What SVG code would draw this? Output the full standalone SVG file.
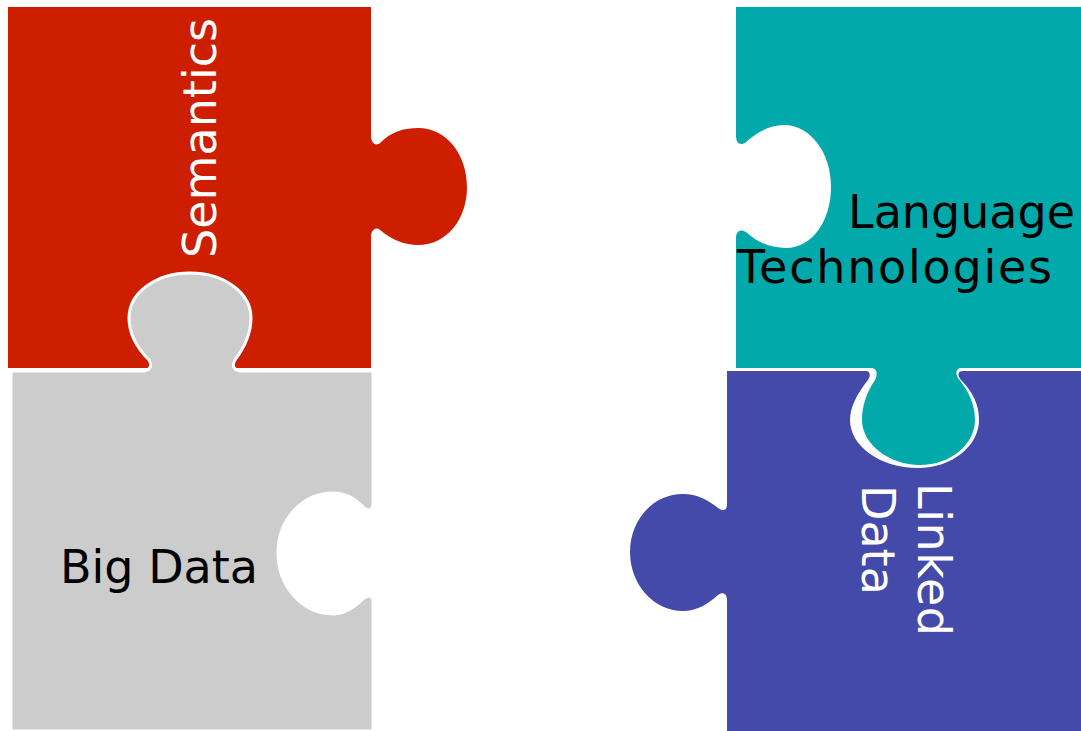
<svg xmlns="http://www.w3.org/2000/svg" width="1081" height="731" viewBox="0 0 1081 731">
<style>
.lbl{font-family:"DejaVu Sans","Liberation Sans",sans-serif;font-size:46px}
.w{fill:#ffffff}
.k{fill:#000000}
</style>
<rect width="1081" height="731" fill="#ffffff"/>
<g id="semantics">
<path fill="#CD1F00" d="M8,7 H371 V136 C371,142 375,147 380,143 C392,131 405,128 418,128 C447,128 467,155 467,187 C467,219 447,245 418,245 C405,245 392,240 380,230 C375,226 371,231 371,237 V368 H8 Z"/>
<text class="lbl w" transform="translate(216,258) rotate(-90)" textLength="240" lengthAdjust="spacing">Semantics</text>
</g>
<g id="bigdata">
<path fill="#CCCCCC" stroke="#ffffff" stroke-width="3" d="M11,371 H143 C149,371 153,366 149,360 C137,348 129,335 129,318 C129,292 157,273 190,273 C223,273 251,292 251,318 C251,335 244,348 235,360 C231,366 235,371 241,371 H373 V503 C373,510 369,512 364,508 C355,498 345,493 333,493 C302,493 278,520 278,553 C278,586 302,614 333,614 C345,614 355,607 364,598 C369,594 373,596 373,602 V731 H11 Z"/>
<text class="lbl k" x="60" y="583">Big Data</text>
</g>
<g id="lineddata">
<path fill="#444AAA" d="M727,371 H866 C870,371 871,375 868,380 C856,395 850,408 850,420 C850,446 880,468 918,468 C952,468 979,446 979,420 C979,405 973,392 961,380 C957,375 958,371 963,371 H1081 V731 H727 V600 C727,594 723,591 718,595 C708,604 697,611 683,611 C653,611 630,584 630,552 C630,520 653,494 683,494 C697,494 708,500 718,508 C723,512 727,510 727,505 Z"/>
<text class="lbl w" transform="translate(918,483) rotate(90)" textLength="153" lengthAdjust="spacing">Linked</text>
<text class="lbl w" transform="translate(862,485) rotate(90)">Data</text>
</g>
<g id="langtech">
<path fill="#02A9AA" d="M736,7 H1081 V368 H962 C956,368 955,373 958,378 C969,391 975,405 975,420 C975,444 951,465 920,465 C889,465 862,444 862,420 C862,405 867,392 875,380 C878,374 877,368 871,368 H736 V238 C736,232 740,228 746,232 C757,242 770,248 786,248 C812,248 831,221 831,187 C831,152 810,125 784,125 C770,125 757,132 746,142 C740,147 736,142 736,136 Z"/>
<text class="lbl k" x="848" y="228">Language</text>
<text class="lbl k" x="737" y="283" textLength="315" lengthAdjust="spacing">Technologies</text>
</g>
<g id="connectors"></g>
</svg>
